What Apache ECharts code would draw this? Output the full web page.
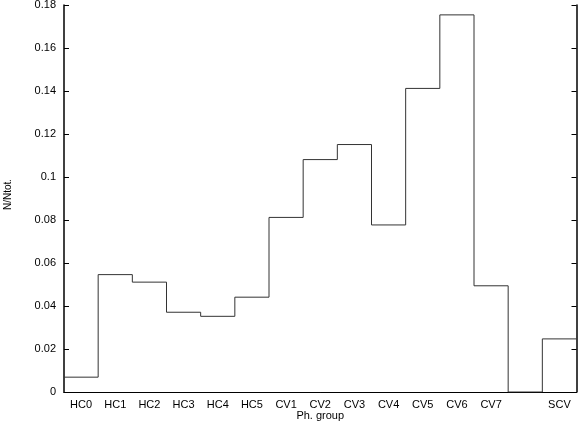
<!DOCTYPE html>
<html>
<head>
<meta charset="utf-8">
<script src="https://cdn.jsdelivr.net/npm/echarts@6/dist/echarts.min.js"></script>
<style>
  html, body { margin: 0; padding: 0; background: #fff; }
  #chart { width: 579px; height: 423px; }
</style>
</head>
<body>
<div id="chart"></div>
<script>
// histogram bins (one empty bin before SCV)
const groups = ["HC0", "HC1", "HC2", "HC3", "HC4", "HC5", "CV1", "CV2", "CV3", "CV4", "CV5", "CV6", "CV7", "", "SCV"];
const fractions = [0.0069, 0.0546, 0.0511, 0.0371, 0.0352, 0.0441, 0.0812, 0.1081, 0.1151, 0.0777, 0.1412, 0.1754, 0.0494, 0, 0.0247];

// step points: bin i spans [i, i+1]
const stepData = fractions.map((v, i) => [i, v]);
stepData.push([fractions.length, fractions[fractions.length - 1]]);

const chartDom = document.getElementById("chart");
const myChart = echarts.init(chartDom);
const font = "Liberation Sans";

const option = {
  animation: false,
  grid: { left: 64, right: 2.5, top: 5, bottom: 31, containLabel: false, outerBoundsMode: "none" },
  xAxis: [
    {
      type: "category",
      position: "bottom",
      data: groups,
      boundaryGap: true,
      name: "Ph. group",
      nameLocation: "middle",
      nameGap: 18,
      nameMoveOverlap: false,
      nameTextStyle: { color: "#000", fontFamily: font, fontSize: 11 },
      axisLine: { lineStyle: { color: "#000", width: 1 } },
      axisTick: { inside: true, alignWithLabel: true, length: 5, lineStyle: { color: "#000" } },
      axisLabel: { color: "#000", fontFamily: font, fontSize: 11, margin: 7, interval: 0 },
      splitLine: { show: false },
    },
    {
      type: "category",
      position: "top",
      data: groups,
      boundaryGap: true,
      axisLine: { lineStyle: { color: "#000", width: 1 } },
      axisTick: { inside: true, alignWithLabel: true, length: 5, lineStyle: { color: "#000" } },
      axisLabel: { show: false },
      splitLine: { show: false },
    },
    {
      type: "value",
      min: 0,
      max: groups.length,
      show: false,
      splitLine: { show: false },
    },
  ],
  yAxis: [
    {
      type: "value",
      position: "left",
      min: 0,
      max: 0.18,
      interval: 0.02,
      name: "N/Ntot.",
      nameLocation: "middle",
      nameGap: 51,
      nameMoveOverlap: false,
      nameTextStyle: { color: "#000", fontFamily: font, fontSize: 10, padding: [0, 0, 0, 8] },
      axisLine: { show: true, lineStyle: { color: "#000", width: 1.5 } },
      axisTick: { show: true, inside: true, length: 5, lineStyle: { color: "#000" } },
      axisLabel: { color: "#000", fontFamily: font, fontSize: 11, margin: 8 },
      splitLine: { show: false },
    },
    {
      type: "value",
      position: "right",
      min: 0,
      max: 0.18,
      interval: 0.02,
      axisLine: { show: true, lineStyle: { color: "#000", width: 1.5 } },
      axisTick: { show: true, inside: true, length: 5, lineStyle: { color: "#000" } },
      axisLabel: { show: false },
      splitLine: { show: false },
    },
  ],
  series: [
    {
      name: "N/Ntot.",
      type: "line",
      xAxisIndex: 2,
      yAxisIndex: 0,
      step: "end",
      symbol: "none",
      lineStyle: { color: "#333", width: 1 },
      data: stepData,
    },
  ],
};

option && myChart.setOption(option);
</script>
</body>
</html>
